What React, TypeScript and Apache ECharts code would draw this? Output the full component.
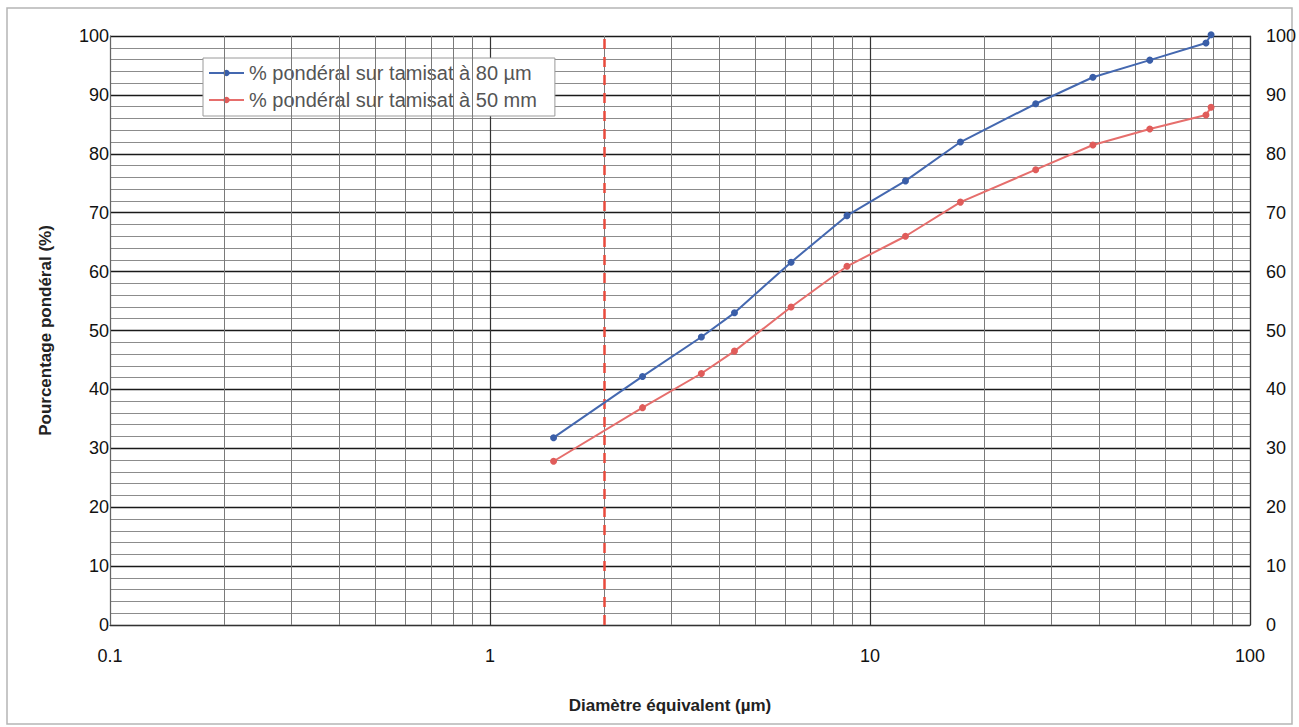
import React, { useEffect, useRef } from "react";
import * as echarts from "echarts";

const diameters = [1.47, 2.52, 3.6, 4.4, 6.2, 8.7, 12.4, 17.3, 27.3, 38.6, 54.5, 76.6, 79];
const blueValues = [31.8, 42.2, 48.9, 53.0, 61.6, 69.5, 75.4, 82.0, 88.5, 93.0, 95.9, 98.8, 100.2];
const redValues = [27.8, 36.9, 42.7, 46.5, 54.0, 60.9, 66.0, 71.8, 77.3, 81.5, 84.2, 86.6, 87.9];
const blueName = "% pondéral sur tamisat à 80 µm";
const redName = "% pondéral sur tamisat à 50 mm";
const xMin = 0.1;
const xMax = 100;
const yMin = 0;
const yMax = 100;
const yStep = 10;
const minorDecades = [0.1, 1, 10];
const minorMultipliers = [2, 3, 4, 5, 6, 7, 8, 9];
const cutoffDiameter = 2;

export default function App() {
  const ref = useRef<HTMLDivElement>(null);
  useEffect(() => {
    if (!ref.current) return;
    const chart = echarts.init(ref.current, undefined, { renderer: "svg" });
    const minorLines: any[] = [];
    minorDecades.forEach((d) =>
      minorMultipliers.forEach((m) => minorLines.push({ xAxis: +(d * m).toPrecision(6) }))
    );
    const font = "Arial, 'Liberation Sans', sans-serif";
    chart.setOption({
      animation: false,
      backgroundColor: "#ffffff",
      textStyle: { fontFamily: font },
      grid: { left: 110, right: 49, top: 36, bottom: 102, containLabel: false },
      legend: {
        orient: "vertical",
        left: 203,
        top: 58,
        padding: [4, 18, 5, 5],
        itemWidth: 35,
        itemHeight: 8,
        itemGap: 5,
        backgroundColor: "#ffffff",
        borderColor: "#9a9a9a",
        borderWidth: 1,
        borderRadius: 0,
        data: [blueName, redName],
        textStyle: { fontSize: 20, color: "#555555", lineHeight: 22, fontFamily: font },
      },
      xAxis: {
        type: "log",
        logBase: 10,
        min: xMin,
        max: xMax,
        name: "Diamètre équivalent (µm)",
        nameLocation: "middle",
        nameGap: 72,
        nameTextStyle: { fontSize: 17, fontWeight: "bold", color: "#222", padding: [0, 20, 0, 0], fontFamily: font },
        axisLine: { show: true, lineStyle: { color: "#333", width: 1.2 } },
        axisTick: { show: false },
        axisLabel: {
          fontSize: 18,
          color: "#111",
          margin: 22,
          fontFamily: font,
          formatter: (v: number) => String(+v.toPrecision(6)),
        },
        splitLine: { show: true, lineStyle: { color: "#333", width: 1.2 } },
        minorTick: { show: false },
        minorSplitLine: { show: false },
      },
      yAxis: [
        {
          type: "value",
          min: yMin,
          max: yMax,
          interval: yStep,
          name: "Pourcentage pondéral (%)",
          nameLocation: "middle",
          nameGap: 56,
          nameTextStyle: { fontSize: 17, fontWeight: "bold", color: "#222", fontFamily: font },
          axisLine: { show: true, lineStyle: { color: "#666", width: 1 } },
          axisTick: { show: false },
          axisLabel: { fontSize: 18, color: "#111", margin: 1, fontFamily: font, padding: [6, 0, 0, 0] },
          splitLine: { show: true, lineStyle: { color: "#1a1a1a", width: 1.4 } },
          minorTick: { show: false, splitNumber: 5 },
          minorSplitLine: { show: true, lineStyle: { color: "#8c8c8c", width: 1 } },
        },
        {
          type: "value",
          min: yMin,
          max: yMax,
          interval: yStep,
          position: "right",
          axisLine: { show: true, lineStyle: { color: "#333", width: 1.2 } },
          axisTick: { show: false },
          axisLabel: { fontSize: 18, color: "#111", margin: 16, fontFamily: font, padding: [0, 0, 6, 0] },
          splitLine: { show: false },
        },
      ],
      series: [
        {
          name: "minor-grid",
          type: "line",
          data: [],
          silent: true,
          markLine: {
            silent: true,
            symbol: "none",
            label: { show: false },
            lineStyle: { color: "#7a7a7a", width: 1, type: "solid" },
            data: minorLines,
          },
        },
        {
          name: "cutoff",
          type: "line",
          data: [],
          silent: true,
          z: 4,
          markLine: {
            silent: true,
            symbol: "none",
            label: { show: false },
            lineStyle: { color: "#e84a3c", width: 2.5, type: [10, 8] },
            data: [{ xAxis: cutoffDiameter }],
          },
        },
        {
          name: blueName,
          type: "line",
          clip: false,
          z: 5,
          data: diameters.map((d, i) => [d, blueValues[i]]),
          symbol: "circle",
          symbolSize: 7,
          lineStyle: { color: "#4468b0", width: 2 },
          itemStyle: { color: "#3a5ea8" },
        },
        {
          name: redName,
          type: "line",
          clip: false,
          z: 5,
          data: diameters.map((d, i) => [d, redValues[i]]),
          symbol: "circle",
          symbolSize: 7,
          lineStyle: { color: "#e66e6c", width: 2 },
          itemStyle: { color: "#e05c5a" },
        },
      ],
      graphic: [
        {
          type: "rect",
          silent: true,
          shape: { x: 7, y: 8, width: 1285, height: 716 },
          style: { fill: "none", stroke: "#b5b5b5", lineWidth: 1.5 },
          z: -10,
        },
      ],
    });
    return () => chart.dispose();
  }, []);
  return (
    <div
      ref={ref}
      style={{ position: "fixed", left: 0, top: 0, width: 1299, height: 727, background: "#fff" }}
    />
  );
}
